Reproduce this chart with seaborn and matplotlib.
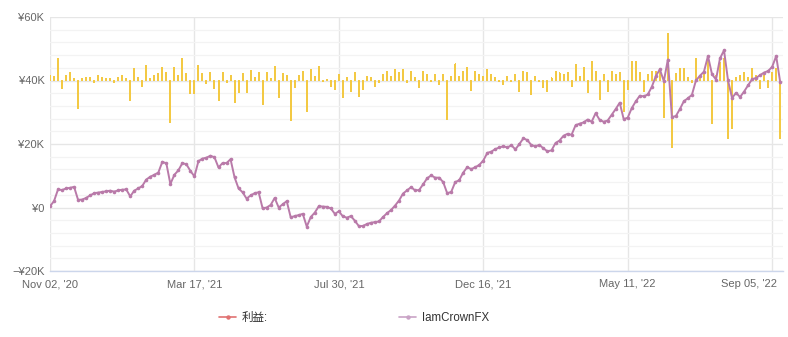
import matplotlib
matplotlib.use('Agg')
import matplotlib.pyplot as plt
import matplotlib.transforms as mtransforms
import seaborn as sns
import pandas as pd
from matplotlib.lines import Line2D
from matplotlib.ticker import FixedLocator, MultipleLocator

# ---------------- data ----------------
date_labels = ["Nov 02, '20", "Mar 17, '21", "Jul 30, '21", "Dec 16, '21", "May 11, '22", "Sep 05, '22"]
date_tick_pos = [0, 36, 72, 108, 144, 180]

# cumulative profit (thousands of yen)
equity = [
    0.4, 2.0, 5.7, 5.5, 6.0, 6.2, 6.5, 2.4, 2.5, 3.0,
    3.8, 4.5, 4.7, 4.9, 5.1, 5.3, 5.0, 5.4, 5.6, 5.7,
    3.5, 5.3, 6.0, 6.8, 8.8, 9.7, 10.3, 11.0, 14.4, 13.9,
    7.4, 10.3, 11.7, 14.0, 13.6, 11.5, 9.8, 14.6, 15.4, 15.7,
    16.3, 15.8, 12.6, 14.0, 14.0, 15.2, 9.5, 6.0, 4.8, 2.8,
    3.8, 4.5, 4.8, -0.3, 0.0, 0.8, 3.0, 0.0, 1.0, 2.0,
    -3.1, -2.7, -2.4, -2.0, -6.0, -3.0, -1.6, 0.4, 0.3, 0.2,
    -0.3, -2.0, -1.2, -2.8, -3.2, -2.7, -4.2, -5.9, -5.8, -5.2,
    -4.8, -4.6, -4.4, -3.0, -1.8, -0.8, 0.6, 2.2, 4.4, 5.4,
    6.4, 5.4, 5.5, 7.3, 9.2, 10.1, 9.4, 9.4, 8.0, 4.5,
    4.9, 8.0, 8.6, 11.0, 12.7, 12.1, 12.7, 13.4, 14.8, 17.2,
    17.6, 18.4, 18.9, 19.3, 18.9, 19.6, 18.3, 20.0, 21.8, 21.2,
    19.6, 19.3, 19.7, 18.6, 17.7, 18.0, 20.3, 21.1, 22.6, 23.2,
    22.9, 25.9, 26.4, 26.8, 27.7, 27.0, 29.7, 27.6, 27.0, 27.4,
    29.2, 31.0, 33.0, 27.8, 28.3, 31.3, 33.4, 35.2, 35.0, 35.6,
    38.0, 41.4, 43.5, 39.8, 46.6, 28.5, 28.8, 31.0, 33.5, 34.4,
    35.5, 40.0, 41.5, 42.8, 47.7, 42.0, 40.3, 47.0, 49.5, 40.0,
    34.5, 36.1, 34.8, 36.5, 38.5, 40.4, 40.8, 41.7, 42.5, 43.0,
    44.3, 47.7, 39.5,
]

# daily profit (thousands of yen), drawn on a secondary axis
daily = [
    1.6, 1.2, 6.8, -2.4, 1.6, 2.6, 0.7, -8.7, 0.5, 0.8,
    1.0, -0.7, 1.6, 1.0, 0.7, 0.5, -0.5, 1.0, 1.6, 0.5,
    -6.3, 3.7, 1.0, -1.8, 4.7, 0.5, 1.6, 2.1, 4.2, 2.6,
    -13.1, 4.2, 1.6, 7.0, 2.1, -4.2, -4.2, 4.7, 2.1, -1.0,
    2.6, -2.4, -6.3, 2.6, -0.7, 1.6, -6.8, -3.7, 2.1, -3.7,
    3.2, 1.0, 2.6, -7.7, 2.6, 0.5, 4.5, -5.3, 2.1, 1.6,
    -12.6, -2.3, 1.6, 2.9, -9.7, 3.5, 1.3, 4.5, -0.4, 0.3,
    -1.8, -2.8, 1.9, -5.5, 0.8, -3.4, 2.4, -4.9, -2.8, 1.3,
    0.8, -1.8, -0.7, 1.9, 2.9, 1.3, 3.5, 2.4, 3.5, -0.7,
    2.9, 0.8, -2.3, 2.9, 2.0, -0.2, 1.9, -1.2, 1.9, -12.3,
    1.3, 5.2, 1.3, 2.9, 4.0, -3.1, 2.9, 1.9, 1.3, 3.5,
    1.9, 0.8, -0.2, -1.2, 1.3, -0.2, 1.9, -3.4, 2.9, 2.4,
    -4.4, 1.3, -0.2, -2.3, -3.4, 0.8, 2.9, 2.4, 1.9, 2.4,
    -1.8, 5.0, 1.3, 4.0, -3.9, 6.1, 2.9, -6.0, 1.9, -3.4,
    2.9, 1.9, 2.4, -9.7, -2.8, 6.1, 6.1, 2.4, -3.4, 1.9,
    2.9, 2.9, 3.7, -11.6, 14.7, -21.0, 2.1, 3.7, 3.7, 1.0,
    -0.5, 6.8, 1.6, 2.6, 6.3, -13.7, 1.6, 5.8, 6.8, -18.4,
    -15.2, 1.0, 1.6, 2.6, 1.0, 3.7, 1.6, -2.6, 1.6, -2.1,
    2.6, 3.7, -18.4,
]

y_tick_vals = [-20, 0, 20, 40, 60]
y_tick_labels = ["\u2212\u00a520K", "\u00a50", "\u00a520K", "\u00a540K", "\u00a560K"]

series_name = "IamCrownFX"
bar_name = "利益:"

# ---------------- style ----------------
sns.set_theme(style="white")
plt.rcParams['font.family'] = ['Liberation Sans', 'Noto Sans CJK JP', 'DejaVu Sans']

LINE_C = '#b97aa9'
BAR_C = '#f3c944'
GRID_C = '#e6e6e6'
MINOR_C = '#f3f3f3'
TXT_C = '#666666'

df = pd.DataFrame({'idx': list(range(len(equity))), 'equity': equity, 'daily': daily})

W, H = 788, 337
fig = plt.figure(figsize=(W / 100, H / 100), dpi=100)
rect = [50 / W, 1 - 271 / H, (783 - 50) / W, (271 - 17) / H]

# background axes: grid + daily bars (secondary scale)
axb = fig.add_axes(rect)
axb.set_zorder(1)
sns.barplot(data=df, x='idx', y='daily', ax=axb, native_scale=True, color=BAR_C,
            saturation=1, width=0.25, errorbar=None, edgecolor='none', linewidth=0)
for p in axb.patches:
    p.set_antialiased(False)
    p.set_snap(False)
axb.set_ylim(-60, 20)
axb.yaxis.set_major_locator(MultipleLocator(20))
axb.yaxis.set_minor_locator(MultipleLocator(4))
axb.xaxis.set_major_locator(FixedLocator(date_tick_pos))
axb.grid(which='major', axis='both', color=GRID_C, linewidth=1.0)
axb.grid(which='minor', axis='y', color=MINOR_C, linewidth=0.9)
axb.set_axisbelow(True)
axb.tick_params(which='both', length=0, labelbottom=False, labelleft=False)
axb.set_xlabel('')
axb.set_ylabel('')
for s in axb.spines.values():
    s.set_visible(False)
axb.spines['bottom'].set_visible(True)
axb.spines['bottom'].set_color('#ccd6eb')
axb.spines['bottom'].set_linewidth(1.0)

# foreground axes: equity line + labels
ax = fig.add_axes(rect, sharex=axb)
ax.set_zorder(2)
ax.patch.set_visible(False)
sns.lineplot(data=df, x='idx', y='equity', ax=ax, color=LINE_C, linewidth=1.4,
             marker='o', markersize=2.6, markeredgewidth=0, legend=False)
ax.set_ylim(-20, 60)
ax.set_xlim(0, 182.7)
ax.yaxis.set_major_locator(FixedLocator(y_tick_vals))
ax.set_yticklabels(y_tick_labels)
ax.xaxis.set_major_locator(FixedLocator(date_tick_pos))
ax.set_xticklabels(date_labels)
ax.tick_params(axis='both', length=0, labelsize=8, colors=TXT_C)
ax.tick_params(axis='y', pad=4)
ax.tick_params(axis='x', pad=6)
ax.grid(False)
ax.set_xlabel('')
ax.set_ylabel('')
for s in ax.spines.values():
    s.set_visible(False)

# keep the last date label inside the figure (right-justified like the original)
last = ax.get_xticklabels()[-1]
last.set_horizontalalignment('right')
last.set_transform(last.get_transform() + mtransforms.ScaledTranslation(0.05, 0, fig.dpi_scale_trans))

handles = [
    Line2D([], [], color='#e07272', marker='o', markersize=2.2, linewidth=1.2),
    Line2D([], [], color='#c9a3c6', marker='o', markersize=2.2, linewidth=1.2),
]
leg = fig.legend(handles, [bar_name, series_name], loc='center left',
                 bbox_to_anchor=(209 / W, 1 - 318 / H), ncol=2, frameon=False,
                 fontsize=8.3, handlelength=1.45, handletextpad=0.5, columnspacing=11.4)
for t in leg.get_texts():
    t.set_color('#333333')

fig.savefig('out.png', dpi=100)
